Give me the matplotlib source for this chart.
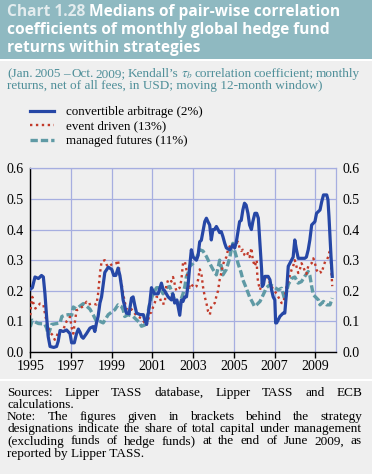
"""
Chart 1.28 - medians of pair-wise correlation coefficients of monthly
global hedge fund returns within strategies (ECB FSR style panel).
Output: out.png (372x474)
"""
import matplotlib

matplotlib.use("Agg")
import matplotlib.pyplot as plt  # noqa: E402
from matplotlib.patches import Rectangle  # noqa: E402

W, H, DPI = 372, 474, 100

# ---- data (decimal years) ----
ca_years = [1995.0, 1995.1, 1995.23, 1995.4, 1995.55, 1995.64, 1995.72, 1995.8, 1995.88, 1995.97,
            1996.15, 1996.29, 1996.37, 1996.46, 1996.62, 1996.78, 1996.95, 1997.03, 1997.16, 1997.27,
            1997.36, 1997.44, 1997.52, 1997.6, 1997.76, 1997.93, 1998.09, 1998.17, 1998.25, 1998.33,
            1998.42, 1998.5, 1998.66, 1998.83, 1999.0, 1999.1, 1999.2, 1999.31, 1999.4, 1999.48,
            1999.56, 1999.72, 1999.85, 1999.97, 2000.05, 2000.14, 2000.22, 2000.4, 2000.55, 2000.62,
            2000.71, 2000.87, 2000.95, 2001.1, 2001.28, 2001.44, 2001.52, 2001.6, 2001.77, 2001.93,
            2002.0, 2002.09, 2002.2, 2002.34, 2002.42, 2002.5, 2002.58, 2002.67, 2002.75, 2002.83,
            2002.91, 2003.0, 2003.16, 2003.24, 2003.32, 2003.4, 2003.48, 2003.57, 2003.65, 2003.73,
            2003.81, 2003.89, 2003.97, 2004.05, 2004.14, 2004.22, 2004.3, 2004.38, 2004.46, 2004.55,
            2004.63, 2004.79, 2004.87, 2004.95, 2005.04, 2005.12, 2005.2, 2005.28, 2005.36, 2005.44,
            2005.52, 2005.6, 2005.69, 2005.77, 2005.86, 2005.93, 2006.03, 2006.12, 2006.2, 2006.28,
            2006.36, 2006.39, 2006.45, 2006.52, 2006.68, 2006.77, 2006.85, 2006.93, 2007.01, 2007.05,
            2007.1, 2007.26, 2007.42, 2007.5, 2007.59, 2007.67, 2007.83, 2007.91, 2007.99, 2008.07,
            2008.16, 2008.32, 2008.48, 2008.56, 2008.65, 2008.73, 2008.82, 2008.98, 2009.06, 2009.23,
            2009.31, 2009.4, 2009.56, 2009.62, 2009.67, 2009.72, 2009.77, 2009.83]
ca_vals = [0.205, 0.21, 0.245, 0.24, 0.25, 0.245, 0.19, 0.116, 0.05, 0.018,
           0.015, 0.018, 0.035, 0.07, 0.067, 0.072, 0.06, 0.03, 0.03, 0.06,
           0.075, 0.065, 0.05, 0.045, 0.06, 0.078, 0.083, 0.067, 0.095, 0.116,
           0.16, 0.18, 0.26, 0.277, 0.27, 0.25, 0.25, 0.274, 0.25, 0.214,
           0.17, 0.127, 0.125, 0.176, 0.18, 0.15, 0.127, 0.122, 0.122, 0.105,
           0.09, 0.16, 0.21, 0.19, 0.19, 0.225, 0.205, 0.2, 0.18, 0.17,
           0.19, 0.16, 0.17, 0.12, 0.17, 0.165, 0.18, 0.18, 0.22, 0.28,
           0.334, 0.31, 0.3, 0.315, 0.36, 0.365, 0.393, 0.426, 0.437, 0.425,
           0.415, 0.366, 0.4, 0.4, 0.41, 0.4, 0.39, 0.393, 0.377, 0.355,
           0.34, 0.334, 0.34, 0.35, 0.34, 0.36, 0.393, 0.426, 0.43, 0.464,
           0.486, 0.48, 0.453, 0.415, 0.4, 0.426, 0.453, 0.453, 0.437, 0.355,
           0.27, 0.214, 0.22, 0.247, 0.247, 0.236, 0.203, 0.18, 0.17, 0.095,
           0.095, 0.116, 0.127, 0.127, 0.2, 0.28, 0.3, 0.31, 0.366, 0.335,
           0.306, 0.306, 0.306, 0.31, 0.334, 0.366, 0.415, 0.426, 0.453, 0.464,
           0.49, 0.513, 0.513, 0.497, 0.442, 0.377, 0.312, 0.247]

ed_years = [1995.0, 1995.03, 1995.1, 1995.15, 1995.25, 1995.35, 1995.48, 1995.64, 1995.72, 1995.8,
            1995.88, 1996.0, 1996.1, 1996.2, 1996.29, 1996.37, 1996.46, 1996.6, 1996.78, 1996.95,
            1997.03, 1997.11, 1997.2, 1997.27, 1997.44, 1997.6, 1997.76, 1997.85, 1998.0, 1998.09,
            1998.25, 1998.33, 1998.42, 1998.5, 1998.66, 1998.75, 1998.83, 1998.92, 1999.07, 1999.23,
            1999.31, 1999.4, 1999.48, 1999.56, 1999.64, 1999.72, 1999.89, 1999.97, 2000.14, 2000.3,
            2000.46, 2000.62, 2000.71, 2000.79, 2000.87, 2000.95, 2001.03, 2001.11, 2001.2, 2001.36,
            2001.44, 2001.6, 2001.68, 2001.77, 2001.85, 2001.93, 2002.01, 2002.17, 2002.34, 2002.42,
            2002.5, 2002.59, 2002.67, 2002.75, 2002.83, 2002.91, 2003.08, 2003.16, 2003.24, 2003.32,
            2003.4, 2003.48, 2003.57, 2003.65, 2003.73, 2003.82, 2003.89, 2004.06, 2004.14, 2004.22,
            2004.3, 2004.38, 2004.46, 2004.55, 2004.63, 2004.71, 2004.79, 2004.87, 2005.04, 2005.12,
            2005.2, 2005.28, 2005.36, 2005.44, 2005.52, 2005.6, 2005.69, 2005.77, 2005.86, 2005.93,
            2006.03, 2006.12, 2006.15, 2006.2, 2006.28, 2006.36, 2006.45, 2006.52, 2006.68, 2006.77,
            2006.85, 2006.93, 2007.01, 2007.1, 2007.18, 2007.26, 2007.34, 2007.42, 2007.5, 2007.59,
            2007.67, 2007.75, 2007.83, 2007.91, 2007.99, 2008.07, 2008.16, 2008.24, 2008.32, 2008.4,
            2008.48, 2008.56, 2008.65, 2008.73, 2008.82, 2008.9, 2008.98, 2009.06, 2009.15, 2009.23,
            2009.31, 2009.4, 2009.48, 2009.56, 2009.64, 2009.7, 2009.74, 2009.79, 2009.83]
ed_vals = [0.12, 0.147, 0.18, 0.16, 0.142, 0.15, 0.158, 0.155, 0.125, 0.1,
           0.078, 0.062, 0.055, 0.04, 0.05, 0.065, 0.07, 0.07, 0.1, 0.115,
           0.08, 0.06, 0.104, 0.136, 0.142, 0.15, 0.164, 0.155, 0.158, 0.158,
           0.155, 0.19, 0.256, 0.295, 0.3, 0.285, 0.278, 0.282, 0.29, 0.29,
           0.3, 0.25, 0.224, 0.19, 0.164, 0.14, 0.136, 0.14, 0.125, 0.115,
           0.11, 0.095, 0.087, 0.105, 0.125, 0.13, 0.147, 0.16, 0.18, 0.18,
           0.158, 0.158, 0.218, 0.235, 0.237, 0.23, 0.245, 0.2, 0.21, 0.235,
           0.29, 0.296, 0.268, 0.236, 0.21, 0.22, 0.21, 0.214, 0.236, 0.27,
           0.258, 0.214, 0.18, 0.16, 0.133, 0.122, 0.149, 0.16, 0.182, 0.2,
           0.236, 0.258, 0.285, 0.3, 0.31, 0.334, 0.345, 0.34, 0.34, 0.355,
           0.36, 0.34, 0.33, 0.334, 0.317, 0.312, 0.323, 0.31, 0.34, 0.3,
           0.28, 0.3, 0.247, 0.225, 0.203, 0.22, 0.24, 0.252, 0.24, 0.225,
           0.214, 0.205, 0.198, 0.19, 0.18, 0.17, 0.16, 0.16, 0.18, 0.214,
           0.23, 0.25, 0.268, 0.28, 0.3, 0.28, 0.258, 0.27, 0.29, 0.28,
           0.265, 0.255, 0.28, 0.285, 0.29, 0.306, 0.29, 0.268, 0.258, 0.262,
           0.258, 0.28, 0.295, 0.3, 0.312, 0.328, 0.32, 0.258, 0.215]

mf_years = [1995.0, 1995.1, 1995.25, 1995.4, 1995.6, 1995.72, 1995.8, 1995.88, 1995.95, 1996.05,
            1996.3, 1996.46, 1996.55, 1996.7, 1996.87, 1997.03, 1997.11, 1997.27, 1997.44, 1997.6,
            1997.76, 1997.93, 1998.1, 1998.25, 1998.42, 1998.58, 1998.83, 1999.15, 1999.31, 1999.48,
            1999.56, 1999.64, 1999.8, 2000.05, 2000.22, 2000.38, 2000.46, 2000.62, 2000.71, 2000.79,
            2000.87, 2001.03, 2001.2, 2001.36, 2001.52, 2001.69, 2001.85, 2001.93, 2002.09, 2002.26,
            2002.34, 2002.5, 2002.59, 2002.67, 2002.75, 2002.83, 2003.0, 2003.16, 2003.32, 2003.48,
            2003.65, 2003.81, 2003.97, 2004.14, 2004.22, 2004.3, 2004.38, 2004.46, 2004.63, 2004.79,
            2004.87, 2004.95, 2005.04, 2005.12, 2005.2, 2005.36, 2005.44, 2005.6, 2005.77, 2005.93,
            2006.01, 2006.11, 2006.28, 2006.44, 2006.6, 2006.77, 2006.93, 2007.18, 2007.34, 2007.42,
            2007.5, 2007.59, 2007.67, 2007.83, 2007.99, 2008.16, 2008.32, 2008.48, 2008.65, 2008.73,
            2008.82, 2008.9, 2009.15, 2009.23, 2009.4, 2009.56, 2009.72, 2009.83]
mf_vals = [0.082, 0.104, 0.098, 0.093, 0.092, 0.09, 0.078, 0.057, 0.07, 0.09,
           0.093, 0.095, 0.116, 0.12, 0.122, 0.12, 0.147, 0.14, 0.15, 0.158,
           0.15, 0.14, 0.12, 0.1, 0.1, 0.095, 0.122, 0.138, 0.154, 0.148,
           0.138, 0.116, 0.122, 0.116, 0.105, 0.095, 0.084, 0.088, 0.105, 0.133,
           0.16, 0.19, 0.21, 0.21, 0.19, 0.21, 0.214, 0.2, 0.17, 0.155,
           0.16, 0.19, 0.214, 0.247, 0.258, 0.28, 0.29, 0.306, 0.334, 0.33,
           0.312, 0.29, 0.27, 0.252, 0.274, 0.3, 0.28, 0.252, 0.27, 0.306,
           0.334, 0.355, 0.33, 0.312, 0.29, 0.258, 0.236, 0.21, 0.18, 0.16,
           0.149, 0.154, 0.165, 0.187, 0.21, 0.22, 0.214, 0.203, 0.208, 0.19,
           0.17, 0.198, 0.22, 0.24, 0.245, 0.225, 0.23, 0.247, 0.263, 0.25,
           0.214, 0.187, 0.17, 0.154, 0.165, 0.154, 0.154, 0.176]

labels = ["convertible arbitrage (2%)", "event driven (13%)", "managed futures (11%)"]
year_ticks = [1995, 1997, 1999, 2001, 2003, 2005, 2007, 2009]
value_ticks = [0.0, 0.1, 0.2, 0.3, 0.4, 0.5, 0.6]

title_lines = ["Medians of pair-wise correlation",
               "coefficients of monthly global hedge fund",
               "returns within strategies"]
subtitle_lines = ["(Jan. 2005 \u2013 Oct. 2009; Kendall\u2019s $\\tau_b$ correlation coefficient; monthly",
                  "returns, net of all fees, in USD; moving 12-month window)"]
note_lines = [("Sources: Lipper TASS database, Lipper TASS and ECB", True),
              ("calculations.", False),
              ("Note: The figures given in brackets behind the strategy", True),
              ("designations indicate the share of total capital under management", True),
              ("(excluding funds of hedge funds) at the end of June 2009, as", True),
              ("reported by Lipper TASS.", False)]

BG = "#efefef"
TITLE_BG = "#8fb9c1"
GRID = "#a6aee0"
SUBTITLE_C = "#4f8f99"
SERIF = "Liberation Serif"

plt.rcParams["font.family"] = SERIF
plt.rcParams["mathtext.fontset"] = "stix"

fig = plt.figure(figsize=(W / DPI, H / DPI), dpi=DPI, facecolor=BG)
renderer = fig.canvas.get_renderer()


def fx(x):
    return x / W


def fy(y):
    return 1 - y / H


def justified(text, x0, x1, y, **kw):
    """Place words so the line spans x0..x1 (pixel coords)."""
    words = text.split(" ")
    objs = [fig.text(0, fy(y), w, **kw) for w in words]
    widths = [o.get_window_extent(renderer).width for o in objs]
    gap = (x1 - x0 - sum(widths)) / max(len(words) - 1, 1)
    x = x0
    for o, w in zip(objs, widths):
        o.set_x(fx(x))
        x += w + gap


# title band + separators
fig.patches.append(Rectangle((0, fy(59)), 1, 59 / H, transform=fig.transFigure,
                             facecolor=TITLE_BG, edgecolor="none", zorder=0))
fig.patches.append(Rectangle((0, fy(61)), 1, 2 / H, transform=fig.transFigure,
                             facecolor="white", edgecolor="none", zorder=0))
fig.patches.append(Rectangle((0, fy(381)), 1, 2 / H, transform=fig.transFigure,
                             facecolor="white", edgecolor="none", zorder=0))

tfont = dict(family="Open Sans", weight="bold", fontsize=11.2, va="baseline")
t0 = fig.text(fx(7), fy(16.5), "Chart 1.28 ", color="#e3ecee", **tfont)
w0 = t0.get_window_extent(renderer).width
fig.text(fx(7 + w0), fy(16.5), title_lines[0], color="white", **tfont)
fig.text(fx(7), fy(34), title_lines[1], color="white", **tfont)
fig.text(fx(7), fy(51.5), title_lines[2], color="white", **tfont)

sfont = dict(fontsize=9.5, color=SUBTITLE_C, va="baseline")
justified(subtitle_lines[0], 7, 360, 77, **sfont)
fig.text(fx(7), fy(89.5), subtitle_lines[1], **sfont)

nfont = dict(fontsize=9.5, color="black", va="baseline")
for i, (line, just) in enumerate(note_lines):
    y = 395.7 + i * 12.2
    if just:
        justified(line, 7, 362, y, **nfont)
    else:
        fig.text(fx(7), fy(y), line, **nfont)

# chart
ax = fig.add_axes([fx(30.3), fy(352), (335.7 - 30.3) / W, (352 - 168.3) / H])
ax.set_facecolor("none")
ax.plot(ca_years, ca_vals, color="#2647a6", lw=2.3, solid_joinstyle="round",
        label=labels[0], zorder=4)
ax.plot(ed_years, ed_vals, color="#c23a2a", lw=1.7, linestyle=(0, (1, 1.5)),
        label=labels[1], zorder=3)
ax.plot(mf_years, mf_vals, color="#5f9aa5", lw=2.4, linestyle=(0, (2.2, 0.9)),
        label=labels[2], zorder=2)

ax.set_xlim(1995, 2010)
ax.set_ylim(0, 0.6)
ax.set_xticks(year_ticks)
ax.set_xticklabels([str(y) for y in year_ticks])
ax.set_yticks(value_ticks)
ax.set_yticklabels([f"{v:.1f}" for v in value_ticks])
ax.grid(True, color=GRID, lw=0.9)
ax.set_axisbelow(True)
for side in ("top", "right"):
    ax.spines[side].set_color(GRID)
    ax.spines[side].set_linewidth(0.9)
for side in ("left", "bottom"):
    ax.spines[side].set_color("black")
    ax.spines[side].set_linewidth(1.0)
ax.tick_params(axis="x", direction="out", length=4, width=1.0, pad=1.5,
               labelsize=10, color="black")
ax.tick_params(axis="y", length=0, labelsize=10, labelleft=True, labelright=True,
               right=False, pad=5)

handles, labs = ax.get_legend_handles_labels()
fig.legend(handles, labs, loc="upper left", bbox_to_anchor=(fx(30), fy(106)),
           frameon=False, handlelength=1.8, handletextpad=0.95, labelspacing=0.18,
           prop=dict(size=9.4), borderaxespad=0, borderpad=0)

fig.savefig("out.png", dpi=DPI, facecolor=BG)
